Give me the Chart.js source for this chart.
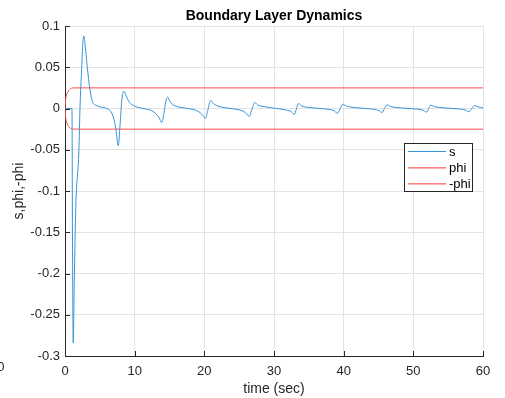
<!DOCTYPE html>
<html>
<head>
<meta charset="utf-8">
<script src="https://cdn.jsdelivr.net/npm/chart.js@4"></script>
<style>
  html, body { margin: 0; padding: 0; background: #ffffff; }
  #wrap { width: 505px; height: 398px; position: relative; }
</style>
</head>
<body>
<div id="wrap"><canvas id="c" width="505" height="398"></canvas></div>
<script>
// ---- data ----
const tS = [0, 1.0, 1.08, 1.18, 1.33, 1.55, 2.0, 2.15, 2.4, 2.55, 2.7, 2.85, 3.2, 3.6, 3.95, 4.4, 5.0, 6.0, 6.6, 7.0, 7.3, 7.65, 7.9, 8.15, 8.45, 8.8, 9.2, 10.0, 11.2, 12.3, 13.0, 13.5, 13.9, 14.2, 14.45, 14.7, 15.1, 15.6, 16.5, 17.7, 18.7, 19.4, 19.85, 20.15, 20.5, 20.9, 21.3, 21.9, 23.0, 24.2, 25.2, 25.9, 26.45, 26.8, 27.25, 27.7, 28.4, 29.5, 30.8, 31.8, 32.5, 32.9, 33.2, 33.5, 34.0, 34.8, 36.0, 37.3, 38.2, 38.7, 39.1, 39.5, 39.9, 40.4, 41.2, 42.5, 43.8, 44.7, 45.1, 45.5, 45.85, 46.25, 46.7, 47.5, 48.8, 50.2, 51.1, 51.5, 51.9, 52.2, 52.5, 53.0, 53.8, 55.0, 56.3, 57.2, 57.6, 58.0, 58.4, 58.8, 59.3, 60.0];
const sVals = [0, 0, -0.17, -0.284, -0.21, -0.119, -0.05, 0.0, 0.05, 0.078, 0.088, 0.08, 0.05, 0.022, 0.008, 0.004, 0.002, 0.0, -0.004, -0.012, -0.025, -0.045, -0.02, 0.01, 0.021, 0.015, 0.008, 0.003, 0.0, -0.002, -0.006, -0.011, -0.017, -0.006, 0.008, 0.0138, 0.008, 0.004, 0.0015, 0.0, -0.002, -0.005, -0.009, -0.012, -0.002, 0.0097, 0.006, 0.003, 0.001, -0.0005, -0.002, -0.005, -0.0095, -0.002, 0.0073, 0.004, 0.0025, 0.001, -0.0005, -0.002, -0.004, -0.0073, -0.001, 0.006, 0.003, 0.0015, 0.0005, -0.0005, -0.0015, -0.003, -0.006, 0.0, 0.0053, 0.003, 0.0015, 0.0005, -0.0005, -0.0015, -0.0028, -0.0049, 0.0, 0.0045, 0.0025, 0.0013, 0.0004, -0.0005, -0.0013, -0.0025, -0.0044, 0.0, 0.0041, 0.0023, 0.0012, 0.0004, -0.0004, -0.0012, -0.0023, -0.004, 0.0, 0.0036, 0.002, 0.0008];
const tPhi = [0, 0.08, 0.2, 0.4, 0.65, 0.9, 1.2, 60];
const phiVals = [0, 0.010, 0.016, 0.020, 0.0232, 0.0245, 0.025, 0.025];
const negPhiVals = [0, -0.010, -0.016, -0.020, -0.0232, -0.0245, -0.025, -0.025];
const seriesNames = ['s', 'phi', '-phi'];
const xTickValues = [0, 10, 20, 30, 40, 50, 60];
const xTickLabels = ['0', '10', '20', '30', '40', '50', '60'];
const yTickValues = [-0.3, -0.25, -0.2, -0.15, -0.1, -0.05, 0, 0.05, 0.1];
const yTickLabels = ['-0.3', '-0.25', '-0.2', '-0.15', '-0.1', '-0.05', '0', '0.05', '0.1'];
const titleText = 'Boundary Layer Dynamics';
const xTitle = 'time (sec)';
const yTitle = 's,phi,-phi';
const strayText = '0';

// ---- build chart ----
const FONT = "'Liberation Sans', Arial, Helvetica, sans-serif";
const AXIS = '#262626';
const BLUE = '#3794d8';
const RED = '#ff4a4a';
const LEGEND_RED = '#ff8080';
const seriesColors = [BLUE, RED, RED];
const legendColors = [BLUE, LEGEND_RED, LEGEND_RED];

const pts = (xs, ys) => xs.map((x, i) => ({ x: x, y: ys[i] }));

const decorations = {
  id: 'decorations',
  afterDraw(chart) {
    const ctx = chart.ctx;
    const a = chart.chartArea;
    const xs = chart.scales.x, ys = chart.scales.y;
    ctx.save();
    // inward tick marks
    ctx.fillStyle = AXIS;
    xTickValues.forEach(v => {
      const px = Math.round(xs.getPixelForValue(v));
      ctx.fillRect(px, a.bottom - 5, 1, 5);
    });
    yTickValues.forEach(v => {
      const py = Math.round(ys.getPixelForValue(v));
      ctx.fillRect(a.left, py, 5, 1);
    });
    // title centred over the plot area
    ctx.fillStyle = '#000000';
    ctx.font = 'bold 14px ' + FONT;
    ctx.textAlign = 'center';
    ctx.textBaseline = 'middle';
    ctx.fillText(titleText, (a.left + a.right) / 2, 16.5);
    // stray clipped label at the lower-left corner
    ctx.fillStyle = AXIS;
    ctx.font = '13px ' + FONT;
    ctx.textAlign = 'right';
    ctx.fillText(strayText, 4.5, 367);
    // legend box
    const x0 = 404, y0 = 143, w = 69, h = 49;
    ctx.fillStyle = AXIS;
    ctx.fillRect(x0, y0, w, h);
    ctx.fillStyle = '#ffffff';
    ctx.fillRect(x0 + 1, y0 + 1, w - 2, h - 2);
    const rows = [151, 167, 183];
    seriesNames.forEach((name, i) => {
      ctx.fillStyle = legendColors[i];
      ctx.fillRect(408, rows[i], 38, i === 0 ? 1 : 1.6);
      ctx.fillStyle = '#000000';
      ctx.font = '13px ' + FONT;
      ctx.textAlign = 'left';
      ctx.textBaseline = 'middle';
      ctx.fillText(name, 449, rows[i] + 1);
    });
    ctx.restore();
  }
};

new Chart(document.getElementById('c'), {
  type: 'line',
  data: {
    datasets: [
      { label: seriesNames[0], data: pts(tS, sVals), borderColor: seriesColors[0], borderWidth: 1, pointRadius: 0, cubicInterpolationMode: 'monotone', fill: false },
      { label: seriesNames[1], data: pts(tPhi, phiVals), borderColor: seriesColors[1], borderWidth: 1, pointRadius: 0, cubicInterpolationMode: 'monotone', fill: false },
      { label: seriesNames[2], data: pts(tPhi, negPhiVals), borderColor: seriesColors[2], borderWidth: 1, pointRadius: 0, cubicInterpolationMode: 'monotone', fill: false }
    ]
  },
  options: {
    responsive: false,
    animation: false,
    devicePixelRatio: 1,
    layout: { padding: { left: 0, right: 22, top: 26, bottom: 0 } },
    plugins: {
      legend: { display: false },
      tooltip: { enabled: false },
      title: { display: false }
    },
    scales: {
      x: {
        type: 'linear', min: 0, max: 60,
        afterFit(s) { s.height = 42; },
        afterBuildTicks(s) { s.ticks = xTickValues.map(v => ({ value: v })); },
        ticks: { color: AXIS, font: { family: FONT, size: 13 }, padding: 8, maxRotation: 0, autoSkip: false,
                 callback: (v, i) => xTickLabels[i] },
        grid: { color: '#e3e3e3', lineWidth: 1, drawTicks: false },
        border: { display: true, color: AXIS, width: 1 },
        title: { display: true, text: xTitle, color: AXIS, font: { family: FONT, size: 14, lineHeight: 1.2 }, padding: { top: 0, bottom: 0 } }
      },
      y: {
        type: 'linear', min: -0.3, max: 0.1,
        afterFit(s) { s.width = 65; },
        afterBuildTicks(s) { s.ticks = yTickValues.map(v => ({ value: v })); },
        ticks: { color: AXIS, font: { family: FONT, size: 13 }, padding: 5, autoSkip: false,
                 callback: (v, i) => yTickLabels[i] },
        grid: { color: '#e3e3e3', lineWidth: 1, drawTicks: false },
        border: { display: true, color: AXIS, width: 1 },
        title: { display: true, text: yTitle, color: AXIS, font: { family: FONT, size: 14, lineHeight: 1.2 }, padding: { top: 11, bottom: 0 } }
      }
    }
  },
  plugins: [decorations]
});
</script>
</body>
</html>
